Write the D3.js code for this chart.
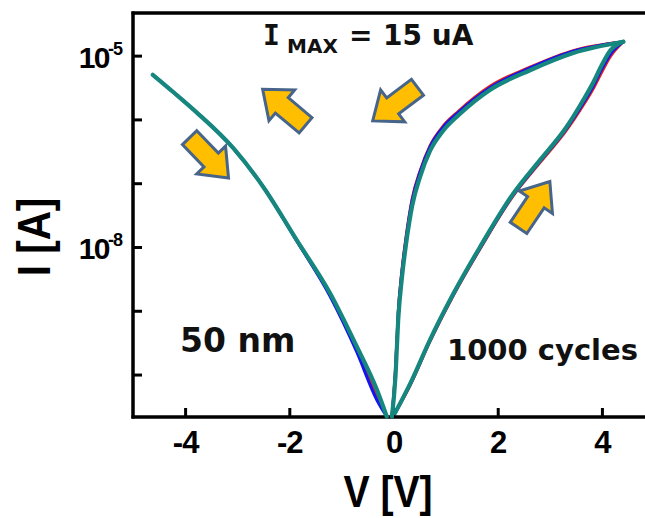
<!DOCTYPE html>
<html><head><meta charset="utf-8">
<script src="https://cdn.jsdelivr.net/npm/d3@7"></script>
<style>html,body{margin:0;padding:0;background:#fff;}svg{display:block;}</style>
</head><body>
<svg id="chart" width="645" height="518"></svg>
<script>
// ---------- data ----------
const xTicks = [-4, -2, 0, 2, 4];
const xTickLabels = ["-4", "-2", "0", "2", "4"];
const yTicks = [1e-5, 1e-6, 1e-7, 1e-8, 1e-9, 1e-10];
const yTickLabels = [{v: 1e-5, base: "10", exp: "-5"}, {v: 1e-8, base: "10", exp: "-8"}];

// negative branch (V, I)
const leftV      = [-4.62, -4.2, -3.78, -3.07, -2.49, -1.86, -1.22, -0.71, -0.32, -0.13];
const leftTeal   = [5.0e-6, 2.57e-6, 1.29e-6, 3.5e-7, 8.5e-8, 1.29e-8, 1.9e-9, 2.8e-10, 5.8e-11, 2.2e-11];
const leftBlue   = [5.0e-6, 2.57e-6, 1.29e-6, 3.5e-7, 8.5e-8, 1.25e-8, 1.7e-9, 2.3e-10, 4.0e-11, 2.2e-11];
const leftRed    = [5.0e-6, 2.57e-6, 1.29e-6, 3.5e-7, 8.5e-8, 1.27e-8, 1.8e-9, 2.5e-10, 4.8e-11, 2.2e-11];

// positive branch, upper (high-current) side
const upV        = [-0.03, 0.04, 0.09, 0.16, 0.24, 0.36, 0.51, 0.70, 0.95, 1.25, 1.85, 2.62, 3.45, 4.41];
const upTeal     = [2.2e-11, 1.0e-10, 7.2e-10, 3.2e-9, 1.1e-8, 4.5e-8, 1.26e-7, 3.2e-7, 6.6e-7, 1.17e-6, 2.9e-6, 5.9e-6, 1.1e-5, 1.65e-5];
const upBlue     = [2.2e-11, 1.25e-10, 9.0e-10, 4.0e-9, 1.35e-8, 5.5e-8, 1.5e-7, 3.7e-7, 7.5e-7, 1.3e-6, 3.15e-6, 6.4e-6, 1.17e-5, 1.65e-5];
const upRed      = [2.2e-11, 1.3e-10, 9.4e-10, 4.2e-9, 1.42e-8, 5.8e-8, 1.56e-7, 3.85e-7, 7.8e-7, 1.35e-6, 3.3e-6, 6.6e-6, 1.2e-5, 1.65e-5];

// positive branch, lower (low-current) side
const lowV       = [0.03, 0.32, 0.70, 1.15, 1.66, 2.30, 2.81, 3.32, 3.58, 3.84, 4.00, 4.16, 4.41];
const lowTeal    = [2.5e-11, 7.2e-11, 3.5e-10, 1.86e-9, 1.0e-8, 6.9e-8, 2.3e-7, 7.6e-7, 1.65e-6, 3.9e-6, 7.2e-6, 1.2e-5, 1.65e-5];
const lowBlue    = [2.5e-11, 7.0e-11, 3.4e-10, 1.8e-9, 9.6e-9, 6.6e-8, 2.2e-7, 7.2e-7, 1.5e-6, 3.4e-6, 6.2e-6, 1.05e-5, 1.65e-5];
const lowRed     = [2.5e-11, 6.8e-11, 3.3e-10, 1.75e-9, 9.3e-9, 6.4e-8, 2.1e-7, 6.8e-7, 1.4e-6, 3.1e-6, 5.6e-6, 9.6e-6, 1.65e-5];

// sweep-direction arrows (V, I, screen angle in degrees)
const arrowV     = [-3.54, -2.10, 0.03, 2.70];
const arrowI     = [2.5e-7, 1.55e-6, 1.74e-6, 4.6e-8];
const arrowAngle = [46, -140, 143, -56];

// ---------- layout ----------
const svg = d3.select("#chart");
svg.append("rect").attr("width", 645).attr("height", 518).attr("fill", "#fff");

const x = d3.scaleLinear().domain([-5, 4.75]).range([133, 641]);
const y = d3.scaleLog().domain([2.16e-11, 4.66e-5]).range([417, 13]);

// axes (ticks inward)
const gx = svg.append("g").attr("transform", "translate(0,417)")
  .call(d3.axisBottom(x).tickValues(xTicks).tickSize(-9).tickFormat((d, i) => xTickLabels[i]));
gx.select(".domain").remove();
gx.selectAll(".tick line").attr("stroke", "#000").attr("stroke-width", 3);
gx.selectAll(".tick text")
  .attr("y", 36).attr("dy", 0)
  .attr("font-family", "'Liberation Sans', Arial, sans-serif")
  .attr("font-weight", "bold").attr("font-size", 31).attr("fill", "#000")
  .attr("letter-spacing", -1);

const gy = svg.append("g").attr("transform", "translate(133,0)")
  .call(d3.axisLeft(y).tickValues(yTicks).tickSize(-9).tickFormat(""));
gy.select(".domain").remove();
gy.selectAll(".tick line").attr("stroke", "#000").attr("stroke-width", 3);

// frame lines
const frame = svg.append("g").attr("stroke", "#000").attr("stroke-width", 3.5).attr("fill", "none");
frame.append("line").attr("x1", 131.5).attr("x2", 645).attr("y1", 417).attr("y2", 417);
frame.append("line").attr("x1", 133).attr("x2", 133).attr("y1", 11.5).attr("y2", 418.5);
frame.append("line").attr("x1", 131.5).attr("x2", 645).attr("y1", 13).attr("y2", 13);

// y tick labels
yTickLabels.forEach(t => {
  const yy = y(t.v);
  svg.append("text").attr("font-family", "'Liberation Sans', Arial, sans-serif")
    .attr("font-weight", "bold").attr("fill", "#000")
    .attr("x", 109).attr("y", yy + 12).attr("text-anchor", "end")
    .attr("font-size", 30).attr("letter-spacing", -1.5).text(t.base);
  svg.append("text").attr("font-family", "'Liberation Sans', Arial, sans-serif")
    .attr("font-weight", "bold").attr("fill", "#000")
    .attr("x", 108).attr("y", yy - 1).attr("font-size", 18).attr("letter-spacing", -1).text(t.exp);
});

// axis titles
svg.append("text").attr("transform", "translate(388,507) scale(0.87,1)")
  .attr("text-anchor", "middle").attr("font-family", "'Liberation Sans', Arial, sans-serif")
  .attr("font-weight", "bold").attr("font-size", 45).attr("fill", "#000").text("V [V]");
svg.append("text").attr("transform", "translate(50,237) rotate(-90) scale(0.88,1)")
  .attr("text-anchor", "middle").attr("font-family", "'Liberation Sans', Arial, sans-serif")
  .attr("font-weight", "bold").attr("font-size", 46).attr("fill", "#000").text("I [A]");

// curves
const line = d3.line().x(d => x(d[0])).y(d => y(d[1])).curve(d3.curveMonotoneX);
const zip = (vs, is) => vs.map((v, i) => [v, is[i]]);
const series = [
  {c: "#e8201c", w: 3, sets: [[leftV, leftRed], [upV, upRed], [lowV, lowRed]]},
  {c: "#1414f0", w: 3, sets: [[leftV, leftBlue], [upV, upBlue], [lowV, lowBlue]]},
  {c: "#16877f", w: 4.2, sets: [[leftV, leftTeal], [upV, upTeal], [lowV, lowTeal]]}
];
series.forEach(s => {
  s.sets.forEach(([vs, is]) => {
    svg.append("path").attr("d", line(zip(vs, is))).attr("fill", "none")
      .attr("stroke", s.c).attr("stroke-width", s.w).attr("stroke-linejoin", "round").attr("stroke-linecap", "round");
  });
});

// arrows
const L = 56, hd = 25, H = 20, sh = 10;
const arrowPts = [[-L/2, -sh], [L/2 - hd, -sh], [L/2 - hd, -H], [L/2, 0], [L/2 - hd, H], [L/2 - hd, sh], [-L/2, sh]];
arrowV.forEach((v, i) => {
  svg.append("polygon").attr("points", arrowPts.map(p => p.join(",")).join(" "))
    .attr("transform", `translate(${x(v)},${y(arrowI[i])}) rotate(${arrowAngle[i]})`)
    .attr("fill", "#ffbf00").attr("stroke", "#47648a").attr("stroke-width", 3).attr("stroke-linejoin", "miter");
});

// annotations
const ann = svg.append("text").attr("font-family", "'DejaVu Sans', Verdana, sans-serif")
  .attr("font-weight", "bold").attr("fill", "#111");
ann.append("tspan").attr("x", 263).attr("y", 45).attr("font-size", 28)
  .attr("font-family", "'DejaVu Sans Mono', monospace").text("I");
ann.append("tspan").attr("x", 287).attr("y", 53).attr("font-size", 20).text("MAX");
ann.append("tspan").attr("x", 349).attr("y", 45).attr("font-size", 28).text("=");
ann.append("tspan").attr("x", 383).attr("y", 45).attr("font-size", 28).text("15 uA");

svg.append("text").attr("x", 180).attr("y", 352).attr("font-family", "'DejaVu Sans', Verdana, sans-serif")
  .attr("font-weight", "bold").attr("font-size", 33).attr("fill", "#111").text("50 nm");
svg.append("text").attr("x", 447).attr("y", 360).attr("font-family", "'DejaVu Sans', Verdana, sans-serif")
  .attr("font-weight", "bold").attr("font-size", 29).attr("fill", "#111").text("1000 cycles");
</script>
</body></html>
